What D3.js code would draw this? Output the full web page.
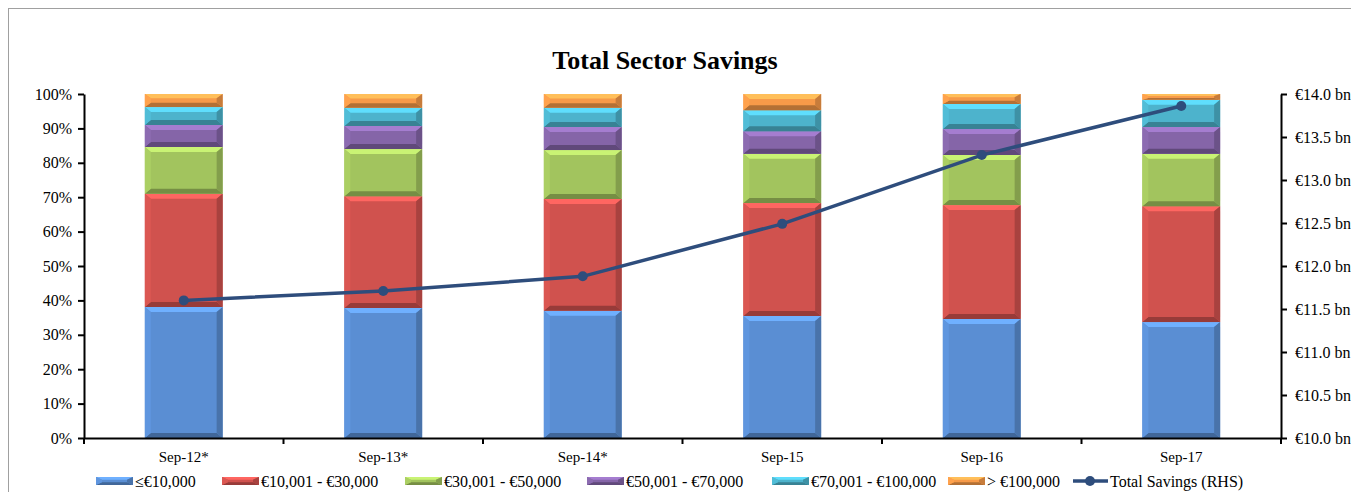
<!DOCTYPE html>
<meta charset="utf-8">
<style>
body { margin: 0; background: #fff; }
svg { font-family: "Liberation Serif", "Times New Roman", serif; }
.axis text { font-size: 16px; fill: #000; font-family: "Liberation Serif", "Times New Roman", serif; }
.axis.xax text { font-size: 15px; }
.axis path, .axis line { stroke: #000; stroke-width: 2px; }
</style>
<svg width="1351" height="492"></svg>
<script src="https://d3js.org/d3.v7.min.js"></script>
<script>

var categories = ["Sep-12*", "Sep-13*", "Sep-14*", "Sep-15", "Sep-16", "Sep-17"];
var bandNames = ["\u2264\u20ac10,000", "\u20ac10,001 - \u20ac30,000", "\u20ac30,001 - \u20ac50,000",
                 "\u20ac50,001 - \u20ac70,000", "\u20ac70,001 - \u20ac100,000", "> \u20ac100,000"];
// share of savings per band (%), one array per band
var upTo10k    = [38.1, 37.8, 37.0, 35.5, 34.6, 33.7];
var k10to30    = [32.9, 32.5, 32.5, 32.8, 33.1, 33.7];
var k30to50    = [13.6, 13.7, 14.2, 14.3, 14.6, 15.2];
var k50to70    = [6.4, 6.7, 6.7, 6.6, 7.5, 7.8];
var k70to100   = [5.2, 5.3, 5.6, 6.1, 7.3, 7.9];
var over100k   = [3.8, 4.0, 4.0, 4.7, 2.9, 1.7];
var totalSavings = [11.60, 11.71, 11.88, 12.49, 13.29, 13.86]; // € bn (RHS)
var pctTicks = [0, 10, 20, 30, 40, 50, 60, 70, 80, 90, 100];
var bnTicks = [10.0, 10.5, 11.0, 11.5, 12.0, 12.5, 13.0, 13.5, 14.0];

var colors = ["#5a8ed3", "#d0524e", "#a2c45e", "#8565a8", "#4db3cc", "#f79a49"];
var lineColor = "#2e4d7c";

var svg = d3.select("svg"),
    plotL = 84, plotR = 1281, plotT = 94, plotB = 438;

// chart border
svg.append("rect").attr("x", 8.5).attr("y", 8.5).attr("width", 1400).attr("height", 600)
  .attr("fill", "none").attr("stroke", "#a0a0a0");

svg.append("text").attr("x", 665).attr("y", 69).attr("text-anchor", "middle")
  .attr("font-size", "26px").attr("font-weight", "bold").text("Total Sector Savings");

var x = d3.scaleBand().domain(categories).range([plotL, plotR]).paddingInner(0.61).paddingOuter(0.305);
var y = d3.scaleLinear().domain([0, 100]).range([plotB, plotT]);
var y2 = d3.scaleLinear().domain([10, 14]).range([plotB, plotT]);

var series = [upTo10k, k10to30, k30to50, k50to70, k70to100, over100k];
var rows = categories.map(function(c, i) {
  var r = { cat: c };
  series.forEach(function(s, j) { r["b" + j] = s[i]; });
  return r;
});
var stack = d3.stack().keys(series.map(function(s, j) { return "b" + j; }))(rows);

function bevelled(g, x0, y0, w, h, col) {
  var b = Math.min(6, w / 4), bv = Math.min(5, h / 3);
  var c = d3.color(col);
  g.append("rect").attr("x", x0).attr("y", y0).attr("width", w).attr("height", h).attr("fill", col);
  var x1 = x0 + w, y1 = y0 + h;
  var faces = [
    [[x0, y0], [x1, y0], [x1 - b, y0 + bv], [x0 + b, y0 + bv], c.brighter(0.6)],
    [[x0, y1], [x1, y1], [x1 - b, y1 - bv], [x0 + b, y1 - bv], c.darker(0.9)],
    [[x0, y0], [x0 + b, y0 + bv], [x0 + b, y1 - bv], [x0, y1], c.brighter(0.15)],
    [[x1, y0], [x1 - b, y0 + bv], [x1 - b, y1 - bv], [x1, y1], c.darker(0.6)]
  ];
  faces.forEach(function(f) {
    g.append("polygon").attr("points", f.slice(0, 4).map(function(p) { return p.join(","); }).join(" "))
      .attr("fill", f[4]);
  });
}

var barG = svg.append("g");
stack.forEach(function(layer, j) {
  layer.forEach(function(d) {
    var y0 = y(d[1]), y1 = y(d[0]);
    bevelled(barG, x(d.data.cat), y0, x.bandwidth(), y1 - y0, colors[j]);
  });
});

// axes
svg.append("g").attr("class", "axis").attr("transform", "translate(" + plotL + ",0)")
  .call(d3.axisLeft(y).tickValues(pctTicks).tickSize(6).tickSizeOuter(0).tickPadding(6)
    .tickFormat(function(d) { return d + "%"; }));
svg.append("g").attr("class", "axis").attr("transform", "translate(" + plotR + ",0)")
  .call(d3.axisRight(y2).tickValues(bnTicks).tickSize(6).tickSizeOuter(0).tickPadding(8)
    .tickFormat(function(d) { return "\u20ac" + d.toFixed(1) + " bn"; }));
var xAxis = svg.append("g").attr("class", "axis xax").attr("transform", "translate(0," + plotB + ")")
  .call(d3.axisBottom(x).tickSize(0).tickSizeOuter(0).tickPadding(13));
xAxis.selectAll(".tick text").attr("dy", "0.71em");
var bounds = d3.range(categories.length + 1).map(function(i) { return plotL + i * x.step(); });
xAxis.selectAll(".bound").data(bounds).enter().append("line")
  .attr("x1", function(d) { return d; }).attr("x2", function(d) { return d; })
  .attr("y1", 0).attr("y2", 6);

// total savings line
var line = d3.line()
  .x(function(d, i) { return x(categories[i]) + x.bandwidth() / 2; })
  .y(function(d) { return y2(d); });
svg.append("path").datum(totalSavings).attr("d", line)
  .attr("fill", "none").attr("stroke", lineColor).attr("stroke-width", 3.5);
svg.selectAll(".pt").data(totalSavings).enter().append("circle")
  .attr("cx", function(d, i) { return x(categories[i]) + x.bandwidth() / 2; })
  .attr("cy", function(d) { return y2(d); })
  .attr("r", 5).attr("fill", lineColor);

// legend
var legend = svg.append("g").attr("font-size", "16px");
var items = bandNames.map(function(n, j) { return { name: n, color: colors[j], kind: "bar" }; })
  .concat([{ name: "Total Savings (RHS)", color: lineColor, kind: "line" }]);
var legendX = [96, 222, 405, 587, 772, 948, 1073], ly = 487;
items.forEach(function(it, k) {
  var g = legend.append("g"), lx = legendX[k];
  if (it.kind === "bar") {
    bevelled(g, lx, ly - 10, 37, 8, it.color);
  } else {
    g.append("line").attr("x1", lx).attr("x2", lx + 35).attr("y1", ly - 6).attr("y2", ly - 6)
      .attr("stroke", it.color).attr("stroke-width", 3.5);
    g.append("circle").attr("cx", lx + 17).attr("cy", ly - 6).attr("r", 5).attr("fill", it.color);
  }
  g.append("text").attr("x", lx + (it.kind === "bar" ? 39 : 37)).attr("y", ly).text(it.name);
});

</script>
